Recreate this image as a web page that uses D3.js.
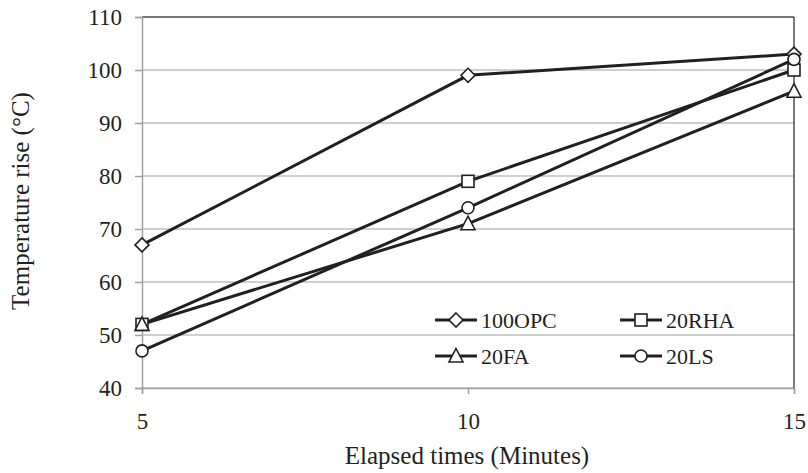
<!DOCTYPE html>
<html>
<head>
<meta charset="utf-8">
<script src="https://cdn.jsdelivr.net/npm/d3@7"></script>
<style>
  body { margin: 0; background: #fff; }
  text { font-family: "Liberation Serif", "Times New Roman", serif; fill: #231f20; }
</style>
</head>
<body>
<script>
const times = [5, 10, 15];
const yTicks = [40, 50, 60, 70, 80, 90, 100, 110];
const seriesNames = ["100OPC", "20RHA", "20FA", "20LS"];
const opc = [67, 99, 103];
const rha = [52, 79, 100];
const fa = [52, 71, 96];
const ls = [47, 74, 102];
const symbols = ["diamond", "square", "triangle", "circle"];

const series = [opc, rha, fa, ls].map((v, i) => ({name: seriesNames[i], values: v, sym: symbols[i]}));

const W = 808, H = 473;
const margin = {left: 142, right: 14, top: 17, bottom: 85};
const iw = W - margin.left - margin.right;
const ih = H - margin.top - margin.bottom;
const ink = "#231f20";

const svg = d3.select("body").append("svg").attr("width", W).attr("height", H);
const g = svg.append("g").attr("transform", `translate(${margin.left},${margin.top})`);

const x = d3.scaleLinear().domain([5, 15]).range([0, iw]);
const y = d3.scaleLinear().domain([40, 110]).range([ih, 0]);

// gridlines
g.selectAll(".grid").data(yTicks).join("line")
  .attr("x1", 0).attr("x2", iw)
  .attr("y1", d => y(d)).attr("y2", d => y(d))
  .attr("stroke", "#a0a0a0").attr("stroke-width", 1.2);

// frame top / right
g.append("line").attr("x1", 0).attr("x2", iw).attr("y1", 0).attr("y2", 0)
  .attr("stroke", ink).attr("stroke-width", 1.2);
g.append("line").attr("x1", iw).attr("x2", iw).attr("y1", 0).attr("y2", ih)
  .attr("stroke", ink).attr("stroke-width", 1.2);

// axes
const yAxis = g.append("g").call(d3.axisLeft(y).tickValues(yTicks).tickSize(7).tickPadding(13));
const xAxis = g.append("g").attr("transform", `translate(0,${ih})`)
  .call(d3.axisBottom(x).tickValues(times).tickSize(6).tickPadding(19));
[yAxis, xAxis].forEach(a => {
  a.select(".domain").attr("stroke", "#a0a0a0").attr("stroke-width", 1.5);
  a.selectAll(".tick line").attr("stroke", "#a0a0a0").attr("stroke-width", 1.5);
  a.selectAll("text").attr("font-size", 23).attr("font-family", "Liberation Serif").attr("fill", ink);
});

// lines
const line = d3.line().x((d, i) => x(times[i])).y(d => y(d));
g.selectAll(".series").data(series).join("path")
  .attr("d", d => line(d.values))
  .attr("fill", "none").attr("stroke", ink).attr("stroke-width", 3);

function marker(sel, sym) {
  const s = 6;
  if (sym === "diamond") {
    sel.append("path").attr("d", `M0,${-s - 1}L${s + 1},0L0,${s + 1}L${-s - 1},0Z`);
  } else if (sym === "square") {
    sel.append("rect").attr("x", -s).attr("y", -s).attr("width", 2 * s).attr("height", 2 * s);
  } else if (sym === "triangle") {
    sel.append("path").attr("d", `M0,${-s - 1.5}L${s + 1},${s}L${-s - 1},${s}Z`);
  } else {
    sel.append("circle").attr("r", s);
  }
  sel.selectAll("*").attr("fill", "#fff").attr("stroke", ink).attr("stroke-width", 1.6);
}

series.forEach(s => {
  s.values.forEach((v, i) => {
    const m = g.append("g").attr("transform", `translate(${x(times[i])},${y(v)})`);
    marker(m, s.sym);
  });
});

// legend
const legPos = [[293, 303], [478, 303], [293, 339], [478, 339]];
series.forEach((s, i) => {
  const lg = g.append("g").attr("transform", `translate(${legPos[i][0]},${legPos[i][1]})`);
  lg.append("line").attr("x1", 0).attr("x2", 42).attr("stroke", ink).attr("stroke-width", 3);
  marker(lg.append("g").attr("transform", "translate(21,0)"), s.sym);
  lg.append("text").attr("x", 46).attr("y", 8).attr("font-size", 22).text(s.name);
});

// axis titles
svg.append("text").attr("x", 467).attr("y", 464)
  .attr("text-anchor", "middle").attr("font-size", 25).text("Elapsed times (Minutes)");
svg.append("text").attr("transform", "translate(29,201) rotate(-90)")
  .attr("text-anchor", "middle").attr("font-size", 25).text("Temperature rise (°C)");
</script>
</body>
</html>
